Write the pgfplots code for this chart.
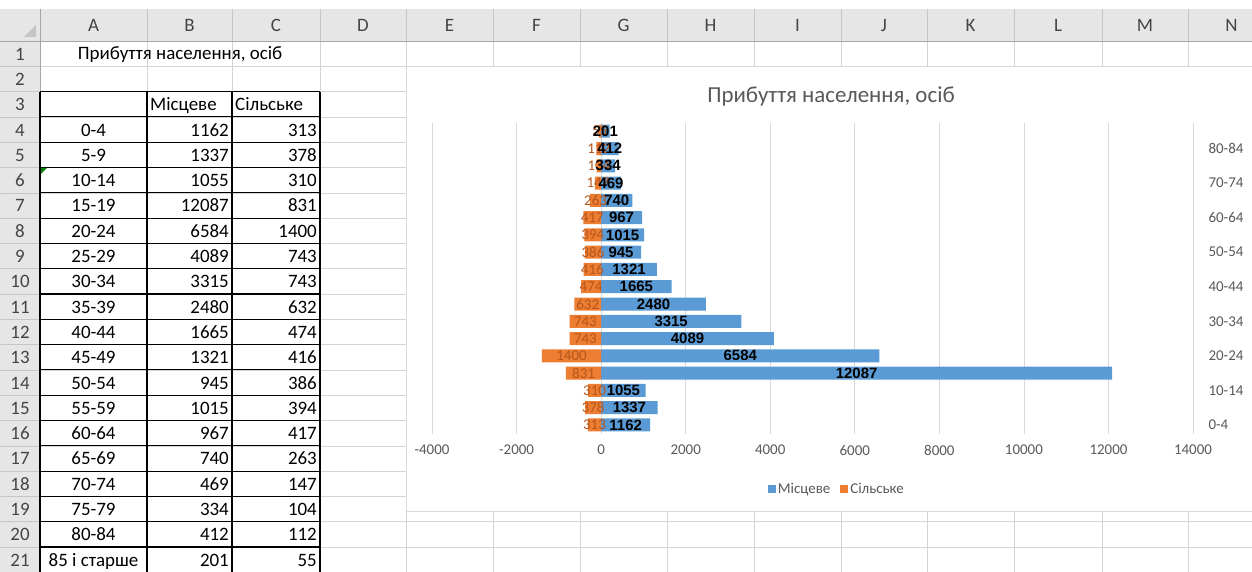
\documentclass[border=0pt]{standalone}
\usepackage{fontspec}
\setmainfont{Carlito}
\newfontfamily\arialfont{Liberation Sans}
\usepackage{pgfplots}
\pgfplotsset{compat=1.18}
\usepackage{pgfplotstable}

\definecolor{blu}{HTML}{5B9BD5}
\definecolor{ora}{HTML}{ED7D31}
\definecolor{oralab}{HTML}{B5561B}
\definecolor{txtgray}{HTML}{595959}
\definecolor{hdrbg}{HTML}{E6E6E6}
\definecolor{hdrtxt}{HTML}{444444}
\definecolor{hdrline}{HTML}{C6C6C6}
\definecolor{cellgrid}{HTML}{D4D4D4}
\definecolor{chartgrid}{HTML}{D9D9D9}

% age group index, local (Місцеве), rural (Сільське)
\pgfplotstableread{
idx m s
0 1162 313
1 1337 378
2 1055 310
3 12087 831
4 6584 1400
5 4089 743
6 3315 743
7 2480 632
8 1665 474
9 1321 416
10 945 386
11 1015 394
12 967 417
13 740 263
14 469 147
15 334 104
16 412 112
17 201 55
}\pop

\newcommand\cellfont{\fontsize{19}{21}\selectfont}

\begin{document}
\begin{tikzpicture}
\useasboundingbox (0,0) rectangle (1252bp,572bp);
\clip (0,0) rectangle (1252bp,572bp);
\fill[white] (0,0) rectangle (1252bp,572bp);

% ---- spreadsheet behind the chart
\begin{scope}[shift={(0,572bp)},x=1bp,y=-1bp]
  \fill[hdrbg] (0,9) rectangle (1252,41);
  \fill[hdrbg] (0,41) rectangle (40,572);
  \foreach \x in {147,232,320,406,493,580,667,754,841,927,1014,1102,1188} {
    \draw[cellgrid] (\x,41) -- (\x,572);
    \draw[hdrline] (\x,9) -- (\x,41);
  }
  \foreach \r in {1,...,21} {
    \pgfmathsetmacro\yy{41+\r*25.3}
    \draw[cellgrid] (40,\yy) -- (1252,\yy);
    \draw[hdrline] (0,\yy) -- (40,\yy);
  }
  \draw[gray!70] (0,41) -- (1252,41);
  \draw[gray!70] (40,9) -- (40,572);
  \fill[gray!45] (36,25) -- (36,37) -- (24,37) -- cycle;
  % column letters
  \foreach \l/\x in {A/93.5,B/189.5,C/276,D/363,E/449.5,F/536.5,G/623.5,H/710.5,I/797.5,J/884,K/970.5,L/1058,M/1145,N/1231.5}
    \node[anchor=base, font=\cellfont, text=hdrtxt, inner sep=0] at (\x,31.5) {\l};
  % row numbers
  \foreach \r in {1,...,21} {
    \pgfmathsetmacro\yy{41+(\r-0.5)*25.3+6.5}
    \node[anchor=base, font=\cellfont, text=hdrtxt, inner sep=0] at (20,\yy) {\r};
  }
  % bordered table A3:C21
  \foreach \r in {2,...,21} {
    \pgfmathsetmacro\yy{41+\r*25.3}
    \draw[black, line width=1.1bp] (40,\yy) -- (320,\yy);
  }
  \foreach \x in {40,147,232,320}
    \draw[black, line width=1.1bp] (\x,91.6) -- (\x,572);
  \fill[green!50!black] (41,168) -- (47,168) -- (41,174) -- cycle;
  % cell texts
  \node[anchor=base, font=\cellfont, inner sep=0] at (180,60) {Прибуття населення, осіб};
  \node[anchor=base west, font=\cellfont, inner sep=0] at (150,111) {Місцеве};
  \node[anchor=base west, font=\cellfont, inner sep=0] at (235,111) {Сільське};
  \foreach \c/\m/\s [count=\i] in {0-4/1162/313,5-9/1337/378,10-14/1055/310,15-19/12087/831,20-24/6584/1400,25-29/4089/743,30-34/3315/743,35-39/2480/632,40-44/1665/474,45-49/1321/416,50-54/945/386,55-59/1015/394,60-64/967/417,65-69/740/263,70-74/469/147,75-79/334/104,80-84/412/112,85 і старше/201/55} {
    \pgfmathsetmacro\yy{41+(\i+2.5)*25.3+6.5}
    \node[anchor=base, font=\cellfont, inner sep=0] at (93.5,\yy) {\c};
    \node[anchor=base east, font=\cellfont, inner sep=0] at (229,\yy) {\m};
    \node[anchor=base east, font=\cellfont, inner sep=0] at (317,\yy) {\s};
  }
  % chart area
  \draw[chartgrid, fill=white] (406,66) rectangle (1270,511);
  \node[anchor=base, font=\fontsize{23}{27}\selectfont, text=txtgray, inner sep=0] at (831,103) {Прибуття населення, осіб};
\end{scope}

% ---- the chart
\begin{axis}[
  at={(432bp,138.4bp)}, anchor=south west,
  scale only axis, width=761bp, height=311bp,
  xmin=-4000, xmax=14000, ymin=-0.5, ymax=17.5,
  xtick={-4000,-2000,...,14000},
  scaled x ticks=false,
  ytick={0,2,...,16},
  yticklabels={0-4,10-14,20-24,30-34,40-44,50-54,60-64,70-74,80-84},
  yticklabel pos=right,
  xmajorgrids, major grid style={chartgrid, line width=0.8bp},
  axis line style={draw=none},
  major tick length=0pt,
  tick label style={font=\fontsize{15}{17}\selectfont, text=txtgray},
  /pgf/number format/assume math mode=true,
  /pgf/number format/1000 sep={},
  xticklabel shift=8bp,
  yticklabel style={xshift=12bp},
  legend style={at={(0.532,-0.177)}, anchor=center, legend columns=-1,
    draw=none, fill=none, font=\fontsize{15}{17}\selectfont, text=txtgray,
    /tikz/every even column/.append style={column sep=8bp}},
  legend image code/.code={\fill[#1] (0bp,-4bp) rectangle (8bp,4bp);},
]
\addplot[xbar, bar width=13bp, bar shift=0pt, fill=blu, draw=none] table[x=m, y=idx] {\pop};
\addlegendentry{Місцеве}
\addplot[xbar, bar width=13bp, bar shift=0pt, fill=ora, draw=none] table[x expr=-\thisrow{s}, y=idx] {\pop};
\addlegendentry{Сільське}
% data labels, centred in the bars
\addplot[draw=none, forget plot, nodes near coords, point meta=explicit symbolic,
  nodes near coords style={anchor=center, inner sep=0, font=\fontsize{15}{17}\selectfont, text=oralab}]
  table[x expr=-\thisrow{s}/2, y=idx, meta=s] {\pop};
\addplot[draw=none, forget plot, nodes near coords, point meta=explicit symbolic,
  nodes near coords style={anchor=center, inner sep=0, font=\arialfont\bfseries\fontsize{15}{17}\selectfont, text=black}]
  table[x expr=\thisrow{m}/2, y=idx, meta=m] {\pop};
\end{axis}
\end{tikzpicture}
\end{document}
